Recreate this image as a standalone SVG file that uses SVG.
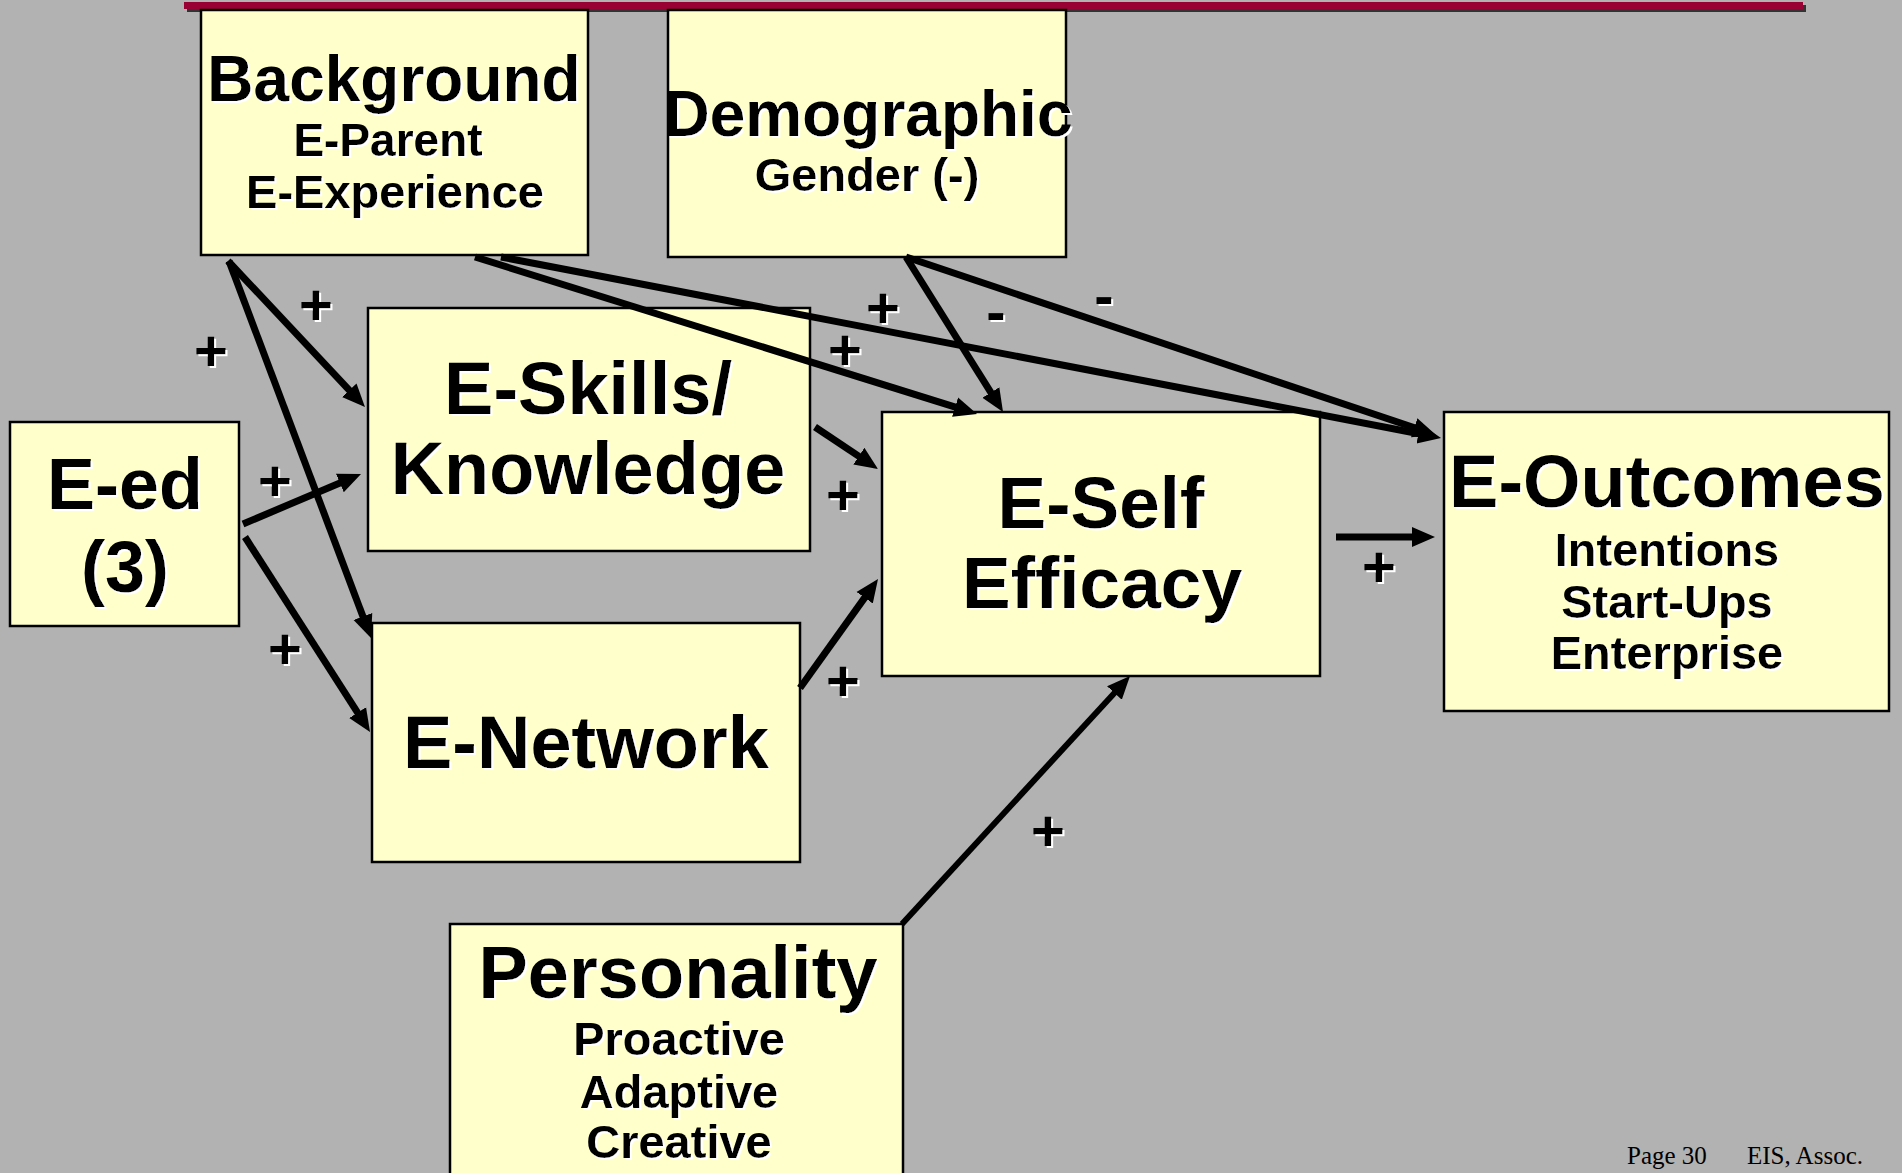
<svg xmlns="http://www.w3.org/2000/svg" width="1902" height="1173" viewBox="0 0 1902 1173">
  <style>
    .box { fill: #ffffcc; stroke: #000; stroke-width: 2.5; }
    .t { font-family: "Liberation Sans", Arial, sans-serif; font-weight: bold; fill: #000; text-anchor: middle; filter: url(#lift); }
    .big { font-size: 74px; }
    .head { font-size: 64px; }
    .sub { font-size: 47px; }
    .sign { font-family: "Liberation Sans", Arial, sans-serif; font-weight: bold; font-size: 58px; fill: #000; text-anchor: middle; filter: url(#lift); }
    .edge { fill: none; stroke: #000; stroke-width: 7; stroke-linecap: butt; marker-end: url(#head); }
    .foot { font-family: "Liberation Serif", "Times New Roman", serif; font-size: 25px; fill: #000; }
  </style>
  <defs>
    <!-- white highlight offset behind black lettering -->
    <filter id="lift" x="-10%" y="-10%" width="120%" height="130%">
      <feOffset in="SourceAlpha" dx="2" dy="2" result="off"/>
      <feFlood flood-color="#ffffff"/>
      <feComposite in2="off" operator="in" result="white"/>
      <feMerge>
        <feMergeNode in="white"/>
        <feMergeNode in="SourceGraphic"/>
      </feMerge>
    </filter>
    <marker id="head" markerUnits="userSpaceOnUse" markerWidth="26" markerHeight="24" viewBox="0 -12 26 24" refX="2" refY="0" orient="auto">
      <path d="M0,-10 L23,0 L0,10 Z" fill="#000"/>
    </marker>
  </defs>

  <rect x="0" y="0" width="1902" height="1173" fill="#b2b2b2"/>

  <!-- title rule -->
  <rect x="187" y="5" width="1619" height="7" fill="#333333"/>
  <rect x="184" y="2" width="1619" height="7" fill="#990033"/>

  <g id="background">
    <rect class="box" x="201" y="10" width="387" height="245"/>
    <text class="t head" x="394" y="101">Background</text>
    <text class="t sub" x="388" y="156" style="font-size:46px">E-Parent</text>
    <text class="t sub" x="395" y="208">E-Experience</text>
  </g>

  <g id="demographic">
    <rect class="box" x="668" y="10" width="398" height="247"/>
    <text class="t head" x="868" y="136">Demographic</text>
    <text class="t sub" x="867" y="191">Gender (-)</text>
  </g>

  <g id="e-ed">
    <rect class="box" x="10" y="422" width="229" height="204"/>
    <text class="t" x="125" y="509" style="font-size:72px">E-ed</text>
    <text class="t" x="125" y="592" style="font-size:72px">(3)</text>
  </g>

  <g id="e-skills">
    <rect class="box" x="368" y="308" width="442" height="243"/>
    <text class="t big" x="588" y="414">E-Skills/</text>
    <text class="t big" x="588" y="494">Knowledge</text>
  </g>

  <g id="e-network">
    <rect class="box" x="372" y="623" width="428" height="239"/>
    <text class="t big" x="586" y="768">E-Network</text>
  </g>

  <g id="e-self-efficacy">
    <rect class="box" x="882" y="412" width="438" height="264"/>
    <text class="t" x="1101" y="528" style="font-size:73px">E-Self</text>
    <text class="t" x="1102" y="608" style="font-size:73px">Efficacy</text>
  </g>

  <g id="e-outcomes">
    <rect class="box" x="1444" y="412" width="445" height="299"/>
    <text class="t big" x="1667" y="507">E-Outcomes</text>
    <text class="t sub" x="1667" y="566">Intentions</text>
    <text class="t sub" x="1667" y="618">Start-Ups</text>
    <text class="t sub" x="1667" y="669">Enterprise</text>
  </g>

  <g id="personality">
    <rect class="box" x="450" y="924" width="453" height="260"/>
    <text class="t big" x="678" y="998">Personality</text>
    <text class="t sub" x="679" y="1055">Proactive</text>
    <text class="t sub" x="679" y="1108">Adaptive</text>
    <text class="t sub" x="679" y="1158">Creative</text>
  </g>

  <g id="connectors">
    <path class="edge" d="M228,261 L350.6,391.7"/>
    <path class="edge" d="M229,261 L363.6,618.3"/>
    <path class="edge" d="M243,524 L341.7,482.2"/>
    <path class="edge" d="M245,537 L358.7,714.3"/>
    <path class="edge" d="M815,427 L860.5,457.3"/>
    <path class="edge" d="M800,688 L865.8,596.1"/>
    <path class="edge" d="M902,924 L1115.8,691.5" style="stroke-width:6"/>
    <path class="edge" d="M475,257 L957,407.7"/>
    <path class="edge" d="M501,257 L1420.4,434"/>
    <path class="edge" d="M906,257 L991.9,394.2"/>
    <path class="edge" d="M906,257 L1416.1,428.3"/>
    <path class="edge" d="M1336,537 L1414,537"/>
  </g>

  <g id="signs">
    <text class="sign" x="211" y="371">+</text>
    <text class="sign" x="316" y="325">+</text>
    <text class="sign" x="275" y="501">+</text>
    <text class="sign" x="285" y="669">+</text>
    <text class="sign" x="845" y="370">+</text>
    <text class="sign" x="883" y="328">+</text>
    <text class="sign" x="996" y="332">-</text>
    <text class="sign" x="1104" y="316">-</text>
    <text class="sign" x="843" y="515">+</text>
    <text class="sign" x="843" y="701">+</text>
    <text class="sign" x="1379" y="587">+</text>
    <text class="sign" x="1048" y="851">+</text>
  </g>

  <g id="footer">
    <text class="foot" x="1627" y="1164">Page 30</text>
    <text class="foot" x="1747" y="1164">EIS, Assoc.</text>
  </g>
</svg>
